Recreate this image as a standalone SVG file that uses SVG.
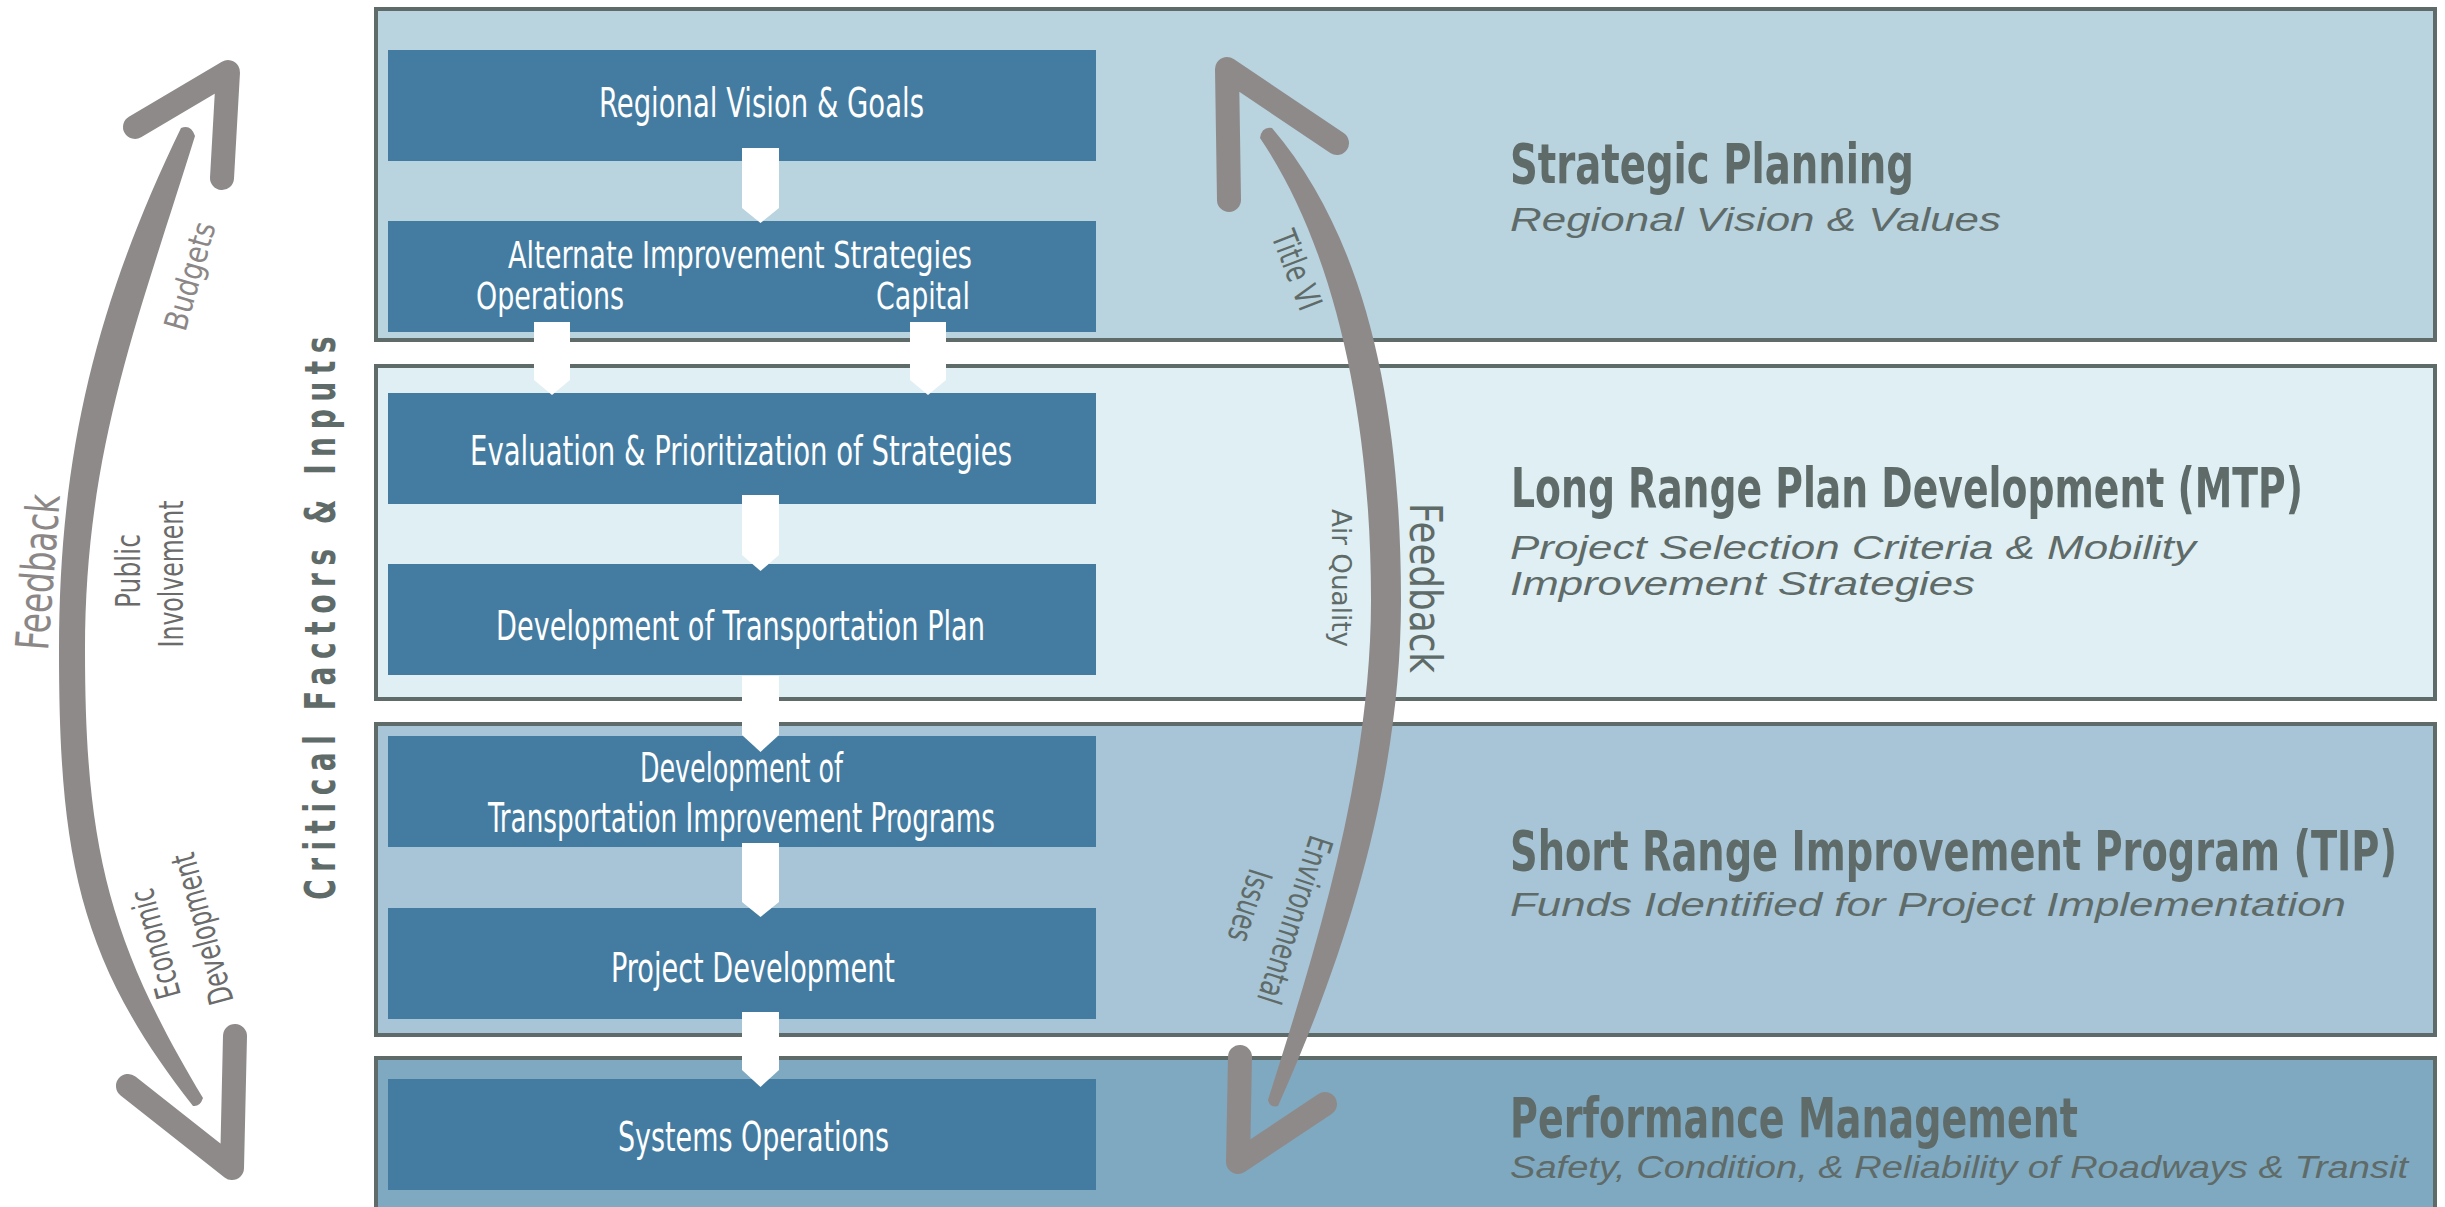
<svg xmlns="http://www.w3.org/2000/svg" width="2445" height="1207" viewBox="0 0 2445 1207">
<defs>
<style>
.band{stroke:#5f6b68;stroke-width:4}
.box{fill:#447ca1}
.bt{font-family:"Liberation Sans Narrow","DejaVu Sans Condensed","Arial Narrow",sans-serif;font-size:40px;fill:#ffffff}
.flow{fill:#ffffff}
.title{font-family:"Liberation Sans Narrow","DejaVu Sans Condensed","Arial Narrow",sans-serif;font-weight:bold;font-size:55px;fill:#5f6b68}
.sub{font-family:"Liberation Sans",Arial,sans-serif;font-style:italic;font-size:34px;fill:#5f6b68}
.shaft{fill:#8f8a8a}
.head{fill:none;stroke:#8f8a8a;stroke-width:24;stroke-linecap:round;stroke-linejoin:round}
.lbl{font-family:"Liberation Sans Narrow","DejaVu Sans Condensed","Arial Narrow",sans-serif;font-size:34px;text-anchor:middle}
.lg{fill:#8c8787}
.ld{fill:#6b6b6b}
.lt{fill:#5f6b68}
.crit{font-family:"Liberation Sans Narrow","DejaVu Sans Condensed","Arial Narrow",sans-serif;font-weight:bold;font-size:42px;fill:#5f6b68;letter-spacing:10px;text-anchor:middle}
</style>
</defs>
<rect width="2445" height="1207" fill="#ffffff"/>

<g id="bands">
<g id="band-strategic"><rect class="band" x="376" y="9" width="2059" height="331" fill="#b9d3df"/></g>
<g id="band-mtp"><rect class="band" x="376" y="366" width="2059" height="333" fill="#dfeff3"/></g>
<g id="band-tip"><rect class="band" x="376" y="724" width="2059" height="311" fill="#a7c5d6"/></g>
<g id="band-perf"><rect class="band" x="376" y="1058" width="2059" height="170" fill="#7fa9c0"/></g>
</g>

<g id="nodes">
<g id="n-vision"><rect class="box" x="388" y="50" width="708" height="111"/><text class="bt" x="599" y="117" textLength="325" lengthAdjust="spacingAndGlyphs">Regional Vision &amp; Goals</text></g>
<g id="n-alternate"><rect class="box" x="388" y="221" width="708" height="111"/><text class="bt" style="font-size:38px" x="508" y="268" textLength="464" lengthAdjust="spacingAndGlyphs">Alternate Improvement Strategies</text><text class="bt" style="font-size:38px" x="476" y="309" textLength="148" lengthAdjust="spacingAndGlyphs">Operations</text><text class="bt" style="font-size:38px" x="876" y="309" textLength="94" lengthAdjust="spacingAndGlyphs">Capital</text></g>
<g id="n-evaluation"><rect class="box" x="388" y="393" width="708" height="111"/><text class="bt" x="470" y="465" textLength="542" lengthAdjust="spacingAndGlyphs">Evaluation &amp; Prioritization of Strategies</text></g>
<g id="n-plan"><rect class="box" x="388" y="564" width="708" height="111"/><text class="bt" x="496" y="640" textLength="489" lengthAdjust="spacingAndGlyphs">Development of Transportation Plan</text></g>
<g id="n-tipdev"><rect class="box" x="388" y="736" width="708" height="111"/><text class="bt" x="640" y="782" textLength="203" lengthAdjust="spacingAndGlyphs">Development of</text><text class="bt" x="488" y="832" textLength="507" lengthAdjust="spacingAndGlyphs">Transportation Improvement Programs</text></g>
<g id="n-project"><rect class="box" x="388" y="908" width="708" height="111"/><text class="bt" x="611" y="982" textLength="284" lengthAdjust="spacingAndGlyphs">Project Development</text></g>
<g id="n-systems"><rect class="box" x="388" y="1079" width="708" height="111"/><text class="bt" x="618" y="1151" textLength="271" lengthAdjust="spacingAndGlyphs">Systems Operations</text></g>
</g>

<g id="connectors">
<polygon class="flow" points="742,148 779,148 779,208 760.5,223 742,208"/>
<polygon class="flow" points="534,322 570,322 570,380 552,395 534,380"/>
<polygon class="flow" points="910,322 946,322 946,380 928,395 910,380"/>
<polygon class="flow" points="742,495 779,495 779,555 760.5,571 742,555"/>
<polygon class="flow" points="742,676 779,676 779,735 760.5,752 742,735"/>
<polygon class="flow" points="742,843 779,843 779,902 760.5,917 742,902"/>
<polygon class="flow" points="742,1012 779,1012 779,1070 760.5,1087 742,1070"/>
<g id="feedback-left">
<path class="shaft" d="M 181,128 C 98,300 59,450 59,650 C 59,855 78,960 193,1106 Q 200,1107 203,1098 C 108,940 85,845 85,650 C 85,450 138,320 195,136 Q 191,124 181,128 Z"/>
<polyline class="head" points="135,127 228,72 222,178"/>
<polyline class="head" points="235,1036 232,1168 128,1086"/>
</g>
<g id="feedback-right">
<path class="shaft" d="M 1272,128 C 1364,236 1401,400 1401,600 C 1401,785 1344,958 1278,1106 Q 1270,1108 1268,1100 C 1316,948 1371,775 1371,600 C 1371,420 1336,250 1260,138 Q 1262,126 1272,128 Z"/>
<polyline class="head" points="1337,143 1227,69 1229,200"/>
<polyline class="head" points="1240,1057 1238,1162 1325,1104"/>
</g>
</g>

<g id="phase-labels">
<g id="l-strategic"><text class="title" x="1510" y="183" textLength="404" lengthAdjust="spacingAndGlyphs">Strategic Planning</text><text class="sub" x="1510" y="231" textLength="491" lengthAdjust="spacingAndGlyphs">Regional Vision &amp; Values</text></g>
<g id="l-mtp"><text class="title" x="1511" y="507" textLength="792" lengthAdjust="spacingAndGlyphs">Long Range Plan Development (MTP)</text><text class="sub" x="1510" y="559" textLength="686" lengthAdjust="spacingAndGlyphs">Project Selection Criteria &amp; Mobility</text><text class="sub" x="1510" y="595" textLength="465" lengthAdjust="spacingAndGlyphs">Improvement Strategies</text></g>
<g id="l-tip"><text class="title" x="1510" y="870" textLength="887" lengthAdjust="spacingAndGlyphs">Short Range Improvement Program (TIP)</text><text class="sub" x="1510" y="916" textLength="836" lengthAdjust="spacingAndGlyphs">Funds Identified for Project Implementation</text></g>
<g id="l-perf"><text class="title" x="1510" y="1137" textLength="568" lengthAdjust="spacingAndGlyphs">Performance Management</text><text class="sub" x="1510" y="1178" style="font-size:31px" textLength="898" lengthAdjust="spacingAndGlyphs">Safety, Condition, &amp; Reliability of Roadways &amp; Transit</text></g>
</g>

<g id="factor-labels">
<text class="crit" transform="translate(335,614.5) rotate(-90)" textLength="571" lengthAdjust="spacingAndGlyphs">Critical Factors &amp; Inputs</text>
<text class="lbl lg" style="font-size:46px" transform="translate(38,572) rotate(-85.6)" y="16" textLength="156" lengthAdjust="spacingAndGlyphs">Feedback</text>
<text class="lbl lg" style="font-size:32px" transform="translate(190,276) rotate(-74)" y="11" textLength="111" lengthAdjust="spacingAndGlyphs">Budgets</text>
<text class="lbl ld" transform="translate(140,571) rotate(-90)" textLength="74" lengthAdjust="spacingAndGlyphs">Public</text>
<text class="lbl ld" transform="translate(183,574) rotate(-90)" textLength="147" lengthAdjust="spacingAndGlyphs">Involvement</text>
<text class="lbl ld" transform="translate(155,944) rotate(-105)" y="12" textLength="112" lengthAdjust="spacingAndGlyphs">Economic</text>
<text class="lbl ld" transform="translate(202,929) rotate(-105)" y="12" textLength="155" lengthAdjust="spacingAndGlyphs">Development</text>
<text class="lbl lt" transform="translate(1297,270) rotate(69)" y="12" textLength="82" lengthAdjust="spacingAndGlyphs">Title VI</text>
<text class="lbl lt" style="font-size:27px" transform="translate(1332,578) rotate(90)" textLength="138" lengthAdjust="spacingAndGlyphs">Air Quality</text>
<text class="lbl lt" style="font-size:44px" transform="translate(1410,588) rotate(90)" textLength="170" lengthAdjust="spacingAndGlyphs">Feedback</text>
<text class="lbl lt" transform="translate(1295,920) rotate(108)" y="12" textLength="174" lengthAdjust="spacingAndGlyphs">Environmental</text>
<text class="lbl lt" transform="translate(1250,906) rotate(108)" y="12" textLength="74" lengthAdjust="spacingAndGlyphs">Issues</text>
</g>
</svg>
